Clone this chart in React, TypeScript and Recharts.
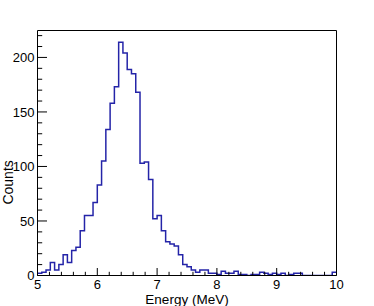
import { LineChart, Line, XAxis, YAxis, ReferenceLine } from 'recharts'

// energy spectrum, 70 bins between 5 and 10 MeV (ROOT style frame)
const binLow = 5
const binHigh = 10
const counts = [
  2, 3, 5, 12, 5, 10, 19, 12, 23, 26,
  41, 55, 55, 67, 83, 105, 134, 158, 173, 214,
  204, 189, 185, 168, 103, 104, 88, 52, 55, 41,
  31, 29, 27, 19, 10, 8, 5, 3, 5, 5,
  2, 2, 1, 4, 2, 2, 4, 1, 1, 0,
  1, 1, 3, 2, 1, 2, 1, 2, 0, 1,
  2, 2, 0, 0, 0, 0, 0, 0, 0, 3,
]
const xMajor = [5, 6, 7, 8, 9, 10]
const yMajor = [0, 50, 100, 150, 200]
const yMax = 224.7

const font = '"Liberation Sans", Arial, Helvetica, sans-serif'
const lineColor = '#2424a8'

const binWidth = (binHigh - binLow) / counts.length
// step line: one point per bin low edge, plus the upper edge of the last bin
const data = counts.map((c, i) => ({ e: binLow + i * binWidth, c }))
data.push({ e: binHigh, c: counts[counts.length - 1] })

const xTicks = Array.from({ length: 26 }, (_, i) => Math.round((binLow + i * 0.2) * 100) / 100)
const yTicks = Array.from({ length: 23 }, (_, i) => i * 10)

function XTick({ x, y, payload }: any) {
  const v = payload.value
  const major = xMajor.includes(v)
  return (
    <g>
      <line x1={x} x2={x} y1={y} y2={y - (major ? 7.5 : 3.7)} stroke="#000" />
      {major && (
        <text x={x} y={y + 13.2} textAnchor="middle" fontSize={13} fontFamily={font} fill="#000">
          {v}
        </text>
      )}
    </g>
  )
}

function YTick({ x, y, payload }: any) {
  const v = payload.value
  const major = yMajor.includes(v)
  return (
    <g>
      <line x1={x} x2={x + (major ? 9.5 : 4.7)} y1={y} y2={y} stroke="#000" />
      {major && (
        <text x={x - 3} y={y + 4.6} textAnchor="end" fontSize={13} fontFamily={font} fill="#000">
          {v}
        </text>
      )}
    </g>
  )
}

const xTitle = ({ viewBox }: any) => (
  <text x={viewBox.x + viewBox.width / 2} y={viewBox.y + 28.3} textAnchor="middle"
    fontSize={13.5} fontFamily={font} fill="#000">
    Energy (MeV)
  </text>
)

const yTitle = ({ viewBox }: any) => {
  const tx = viewBox.x + viewBox.width - 24.5
  const ty = viewBox.y + viewBox.height * 0.62
  return (
    <text x={tx} y={ty} transform={`rotate(-90 ${tx} ${ty})`} textAnchor="middle"
      fontSize={14} fontFamily={font} fill="#000">
      Counts
    </text>
  )
}

export default function App() {
  return (
    <div style={{ position: 'absolute', left: 0, top: 0, width: 374, height: 306, background: '#fff' }}>
      <LineChart width={374} height={306} data={data}
        margin={{ top: 30.5, right: 37.5, bottom: 29.5, left: 36.5 }}>
        <XAxis dataKey="e" type="number" domain={[binLow, binHigh]} allowDataOverflow
          ticks={xTicks} interval={0} tick={<XTick />} tickLine={false} tickSize={0} tickMargin={0}
          height={1} axisLine={{ stroke: '#000' }} label={{ content: xTitle }} />
        <YAxis type="number" domain={[0, yMax]} allowDataOverflow
          ticks={yTicks} interval={0} tick={<YTick />} tickLine={false} tickSize={0} tickMargin={0}
          width={1} axisLine={{ stroke: '#000' }} label={{ content: yTitle }} />
        <ReferenceLine y={yMax} stroke="#000" />
        <ReferenceLine x={binHigh} stroke="#000" />
        <Line type="stepAfter" dataKey="c" stroke={lineColor} strokeWidth={1.5}
          dot={false} activeDot={false} isAnimationActive={false} />
      </LineChart>
    </div>
  )
}
